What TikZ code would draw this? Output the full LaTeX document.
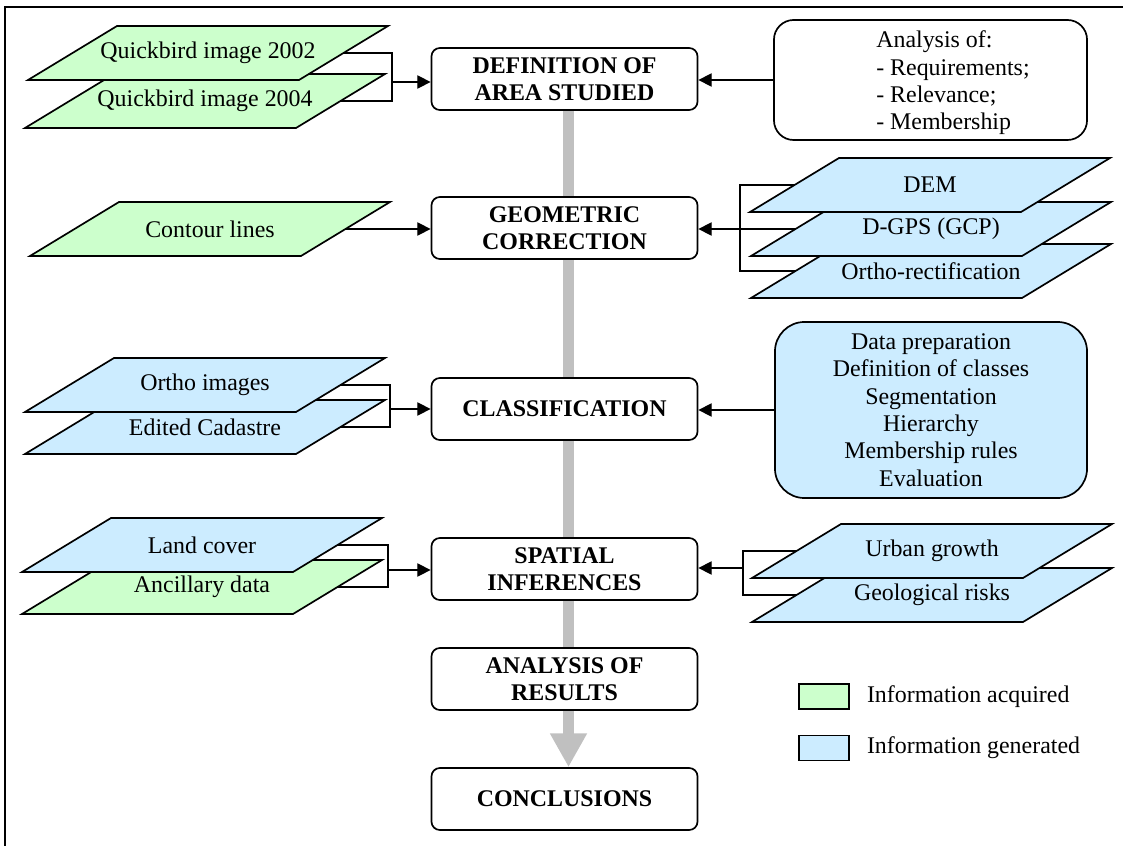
\documentclass[tikz,border=0pt]{standalone}
\usepackage{fontspec}
\setmainfont{Liberation Serif}
\usetikzlibrary{arrows.meta, calc, positioning, backgrounds}
\definecolor{acquiredgreen}{RGB}{204,255,204}
\definecolor{generatedblue}{RGB}{204,236,255}
\definecolor{flowgray}{RGB}{192,192,192}
% data layer: name, centre, fill style, text
\newcommand{\layer}[4]{%
  \filldraw[#3, layerline] ($(#2)+(-91,-27)$) -- ($(#2)+(180,-27)$) -- ($(#2)+(91,27)$) -- ($(#2)+(-180,27)$) -- cycle;
  \node[layer] (#1) at (#2) {#4};
}

\begin{document}
\begin{tikzpicture}[x=0.025cm, y=-0.025cm, >={Triangle[length=9.5pt,width=9.5pt]},
    every node/.style={font=\fontsize{17}{19.5}\selectfont},
    stepbox/.style={draw, fill=white, line width=1.2pt, rounded corners=6pt, minimum width=6.65cm, minimum height=1.55cm, align=center, font=\fontsize{17}{19.5}\selectfont\bfseries},
    layer/.style={inner sep=0pt, minimum width=6.775cm, minimum height=1.35cm},
    layerline/.style={draw=black, line width=1.2pt},
    acquired/.style={fill=acquiredgreen},
    generated/.style={fill=generatedblue},
    link/.style={line width=0.9pt},
    legendbox/.style={draw, line width=1pt, inner sep=0pt, minimum width=1.25cm, minimum height=0.625cm}]
    \useasboundingbox (0,0) rectangle (1123,846);

    % Frame
    \draw[line width=1.4pt] (1123,7) -- (5,7) -- (5,846);

    % Main steps
    \node[stepbox] (def) at (564.5,79) {DEFINITION OF\\AREA STUDIED};
    \node[stepbox] (geom) at (564.5,228) {GEOMETRIC\\CORRECTION};
    \node[stepbox] (class) at (564.5,409) {CLASSIFICATION};
    \node[stepbox] (spatial) at (564.5,569) {SPATIAL\\INFERENCES};
    \node[stepbox] (results) at (564.5,679) {ANALYSIS OF\\RESULTS};
    \node[stepbox] (concl) at (564.5,799) {CONCLUSIONS};

    % Flow arrow behind the steps
    \begin{scope}[on background layer]
        \draw[flowgray, line width=8.3pt, -{Triangle[length=24pt,width=24.7pt]}] ($(def.south)+(4,0)$) -- ($(concl.north)+(4,0)$);
    \end{scope}

    % Layers on the left
    \layer{qb04}{205,101}{acquired}{Quickbird image 2004}
    \layer{qb02}{208,53}{acquired}{Quickbird image 2002}
    \layer{contour}{210,229}{acquired}{Contour lines}
    \layer{cadastre}{205,427}{generated}{Edited Cadastre}
    \layer{ortho}{205,385}{generated}{Ortho images}
    \layer{ancillary}{202,587}{acquired}{Ancillary data}
    \layer{landcover}{202,545}{generated}{Land cover}

    % Layers on the right
    \layer{orthorect}{931,271}{generated}{Ortho-rectification}
    \layer{dgps}{931,229}{generated}{D-GPS (GCP)}
    \layer{dem}{930,185}{generated}{DEM}
    \layer{geol}{932,595}{generated}{Geological risks}
    \layer{urban}{932,551}{generated}{Urban growth}

    % Boxes on the right
    \node[draw, line width=1.2pt, rounded corners=14pt, minimum width=7.825cm, minimum height=3cm] (analysis) at (930.5,80) {};
    \node[anchor=west, align=left, inner sep=0pt] (analysislist) at (876,83) {Analysis of:\\- Requirements;\\- Relevance;\\- Membership};
    \node[draw, generated, line width=1.2pt, rounded corners=21pt, minimum width=7.8cm, minimum height=4.4cm, align=center] (datap) at (931,410)
        {Data preparation\\Definition of classes\\Segmentation\\Hierarchy\\Membership rules\\Evaluation};

    % Links into the steps
    \coordinate (qbjoin) at (392,82);
    \draw[link] (qb02.east) -| (qbjoin) |- (qb04.east);
    \draw[link, ->] (qbjoin) -- (qbjoin -| def.west);
    \draw[link, ->] (analysis.west) -- (analysis.west -| def.east);

    \draw[link, ->] (contour.east) -- (contour.east -| geom.west);
    \coordinate (geojoin) at (740,229);
    \draw[link] (dem.west) -| (geojoin) |- (orthorect.west);
    \draw[link, ->] (dgps.west) -- (dgps.west -| geom.east);

    \coordinate (classjoin) at (390,409);
    \draw[link] (ortho.east) -| (classjoin) |- (cadastre.east);
    \draw[link, ->] (classjoin) -- (classjoin -| class.west);
    \draw[link, ->] (datap.west) -- (datap.west -| class.east);

    \coordinate (landjoin) at (388,570);
    \draw[link] (landcover.east) -| (landjoin) |- (ancillary.east);
    \draw[link, ->] (landjoin) -- (landjoin -| spatial.west);
    \coordinate (riskjoin) at (743,568);
    \draw[link] (urban.west) -| (riskjoin) |- (geol.west);
    \draw[link, ->] (riskjoin) -- (riskjoin -| spatial.east);

    % Legend
    \node[legendbox, acquired] (legacq) at (824,696.5) {};
    \node[right=0.425cm of legacq, inner sep=0pt] (legacqtext) {Information acquired};
    \node[legendbox, generated, below=0.625cm of legacq] (leggen) {};
    \node[right=0.425cm of leggen, inner sep=0pt] (leggentext) {Information generated};
\end{tikzpicture}
\end{document}
